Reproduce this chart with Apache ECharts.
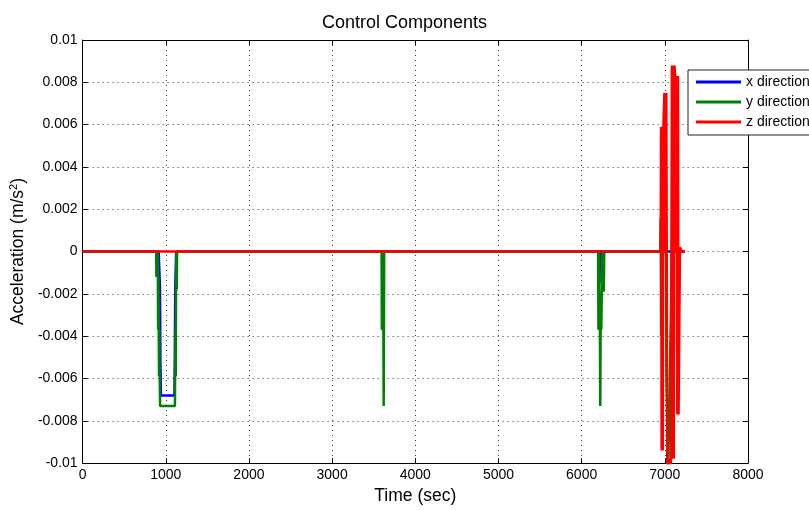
<!DOCTYPE html>
<html>
<head>
<meta charset="utf-8">
<script src="https://cdn.jsdelivr.net/npm/echarts@6/dist/echarts.min.js"></script>
<style>
  html, body { margin: 0; padding: 0; background: #fff; }
  #chart { width: 809px; height: 510px; }
</style>
</head>
<body>
<div id="chart"></div>
<script>
(function() {
  // --- data: [time (sec), acceleration (m/s^2)] ---
  var xDirection = [
    [0, 0], [915, 0], [930, -0.0017], [936, -0.0053], [942, -0.0068],
    [1104, -0.0068], [1108, -0.0053], [1114, -0.0017], [1125, 0],
    [3610, 0], [3615, -0.0015], [3620, 0],
    [6210, 0], [6215, -0.0015], [6220, 0],
    [7240, 0]
  ];

  var yDirection = [
    [0, 0], [885, 0], [887, -0.0012], [893, 0], [897, -0.0012], [903, 0], [905, -0.0012],
    [908, -0.0037], [912, -0.0012], [916, -0.0037], [919, -0.0059], [923, -0.0037],
    [927, -0.0059], [932, -0.0073], [1110, -0.0073], [1112, -0.0059], [1117, -0.0037],
    [1120, -0.0059], [1123, -0.0018], [1128, 0], [1132, -0.0018], [1136, 0],
    [3595, 0], [3598, -0.0037], [3604, 0], [3608, -0.0037], [3614, -0.0012], [3620, -0.0073], [3626, 0],
    [6198, 0], [6202, -0.0037], [6208, 0], [6212, -0.0037], [6218, -0.0019], [6224, -0.0073],
    [6230, -0.0019], [6236, -0.0037], [6242, -0.0019], [6248, 0], [6254, -0.0019], [6260, 0],
    [6266, -0.0019], [6272, 0],
    [6945, 0], [6950, 0.0016], [6956, -0.0040], [6962, 0.0010], [6980, 0], [7010, 0.0033],
    [7020, -0.0060], [7040, -0.0105], [7050, -0.0105], [7100, 0.0031], [7110, 0], [7240, 0]
  ];

  var zDirection = [
    [0, 0], [6950, 0], [6955, 0.0059], [6962, -0.0094], [6969, 0.0059], [6976, -0.0094],
    [6983, 0.0059], [6995, 0.0075], [7002, 0], [7008, 0.0075], [7014, 0], [7018, 0.0075],
    [7030, -0.0105], [7045, -0.0100], [7055, -0.0105], [7065, -0.0098], [7072, -0.0105],
    [7085, 0.0088], [7092, -0.0098], [7100, 0.0088], [7108, -0.0098], [7115, 0.0088],
    [7125, 0.0083], [7135, 0], [7145, 0.0083], [7150, -0.0077], [7158, 0.0083],
    [7165, -0.0077], [7175, -0.0077], [7182, 0.0002], [7200, 0.0002], [7205, 0], [7244, 0]
  ];

  var seriesNames = ['x direction', 'y direction', 'z direction'];
  var seriesColors = ['#0000ff', '#008000', '#ff0000'];

  var font = 'Liberation Sans, Arial, sans-serif';

  var chart = echarts.init(document.getElementById('chart'), null, { renderer: 'canvas' });

  function fmtY(v) {
    return String(parseFloat(v.toFixed(3)));
  }
  function fmtX(v) {
    return String(v);
  }

  var dotted = { color: '#333', width: 1, type: [1, 4] };

  chart.setOption({
    animation: false,
    backgroundColor: '#fff',
    title: {
      text: 'Control Components',
      left: 'center',
      top: 9,
      textStyle: { fontFamily: font, fontSize: 18, fontWeight: 'normal', color: '#000' }
    },
    legend: {
      data: seriesNames,
      orient: 'vertical',
      left: 688,
      top: 70,
      padding: [5, 40, 6, 8],
      itemGap: 6,
      itemWidth: 45,
      itemHeight: 3,
      icon: 'rect',
      backgroundColor: '#fff',
      borderColor: '#222',
      borderWidth: 1,
      textStyle: { fontFamily: font, fontSize: 14, color: '#000' }
    },
    grid: { left: 81, right: 61, top: 40, bottom: 45, containLabel: false },
    xAxis: [{
      type: 'value',
      min: 0,
      max: 8000,
      interval: 1000,
      name: 'Time (sec)',
      nameLocation: 'middle',
      nameGap: 23,
      nameTextStyle: { fontFamily: font, fontSize: 17.5, color: '#000' },
      axisLine: { onZero: false, lineStyle: { color: '#000' } },
      axisTick: { inside: true, length: 5, lineStyle: { color: '#000' } },
      axisLabel: { fontFamily: font, fontSize: 14, color: '#000', margin: 5, formatter: fmtX },
      splitLine: { show: true, lineStyle: dotted }
    }, {
      type: 'value',
      position: 'top',
      min: 0,
      max: 8000,
      interval: 1000,
      axisLine: { show: true, onZero: false, lineStyle: { color: '#000' } },
      axisTick: { inside: true, length: 5, lineStyle: { color: '#000' } },
      axisLabel: { show: false },
      splitLine: { show: false }
    }],
    yAxis: [{
      type: 'value',
      min: -0.01,
      max: 0.01,
      interval: 0.002,
      name: 'Acceleration (m/s{sup|2})',
      nameLocation: 'middle',
      nameGap: 49,
      nameTextStyle: {
        fontFamily: font, fontSize: 17.5, color: '#000',
        rich: { sup: { fontFamily: font, fontSize: 11, color: '#000', verticalAlign: 'top', padding: [0, 0, 9, 0] } }
      },
      axisLine: { show: true, onZero: false, lineStyle: { color: '#000' } },
      axisTick: { show: true, inside: true, length: 5, lineStyle: { color: '#000' } },
      axisLabel: { fontFamily: font, fontSize: 14, color: '#000', margin: 5, formatter: fmtY },
      splitLine: { show: true, lineStyle: dotted }
    }, {
      type: 'value',
      position: 'right',
      min: -0.01,
      max: 0.01,
      interval: 0.002,
      axisLine: { show: true, onZero: false, lineStyle: { color: '#000' } },
      axisTick: { show: true, inside: true, length: 5, lineStyle: { color: '#000' } },
      axisLabel: { show: false },
      splitLine: { show: false }
    }],
    series: [xDirection, yDirection, zDirection].map(function(d, i) {
      return {
        name: seriesNames[i],
        type: 'line',
        data: d,
        showSymbol: false,
        symbol: 'none',
        clip: true,
        color: seriesColors[i],
        lineStyle: { color: seriesColors[i], width: 2.5 },
        z: 2 + i
      };
    })
  });
})();
</script>
</body>
</html>
